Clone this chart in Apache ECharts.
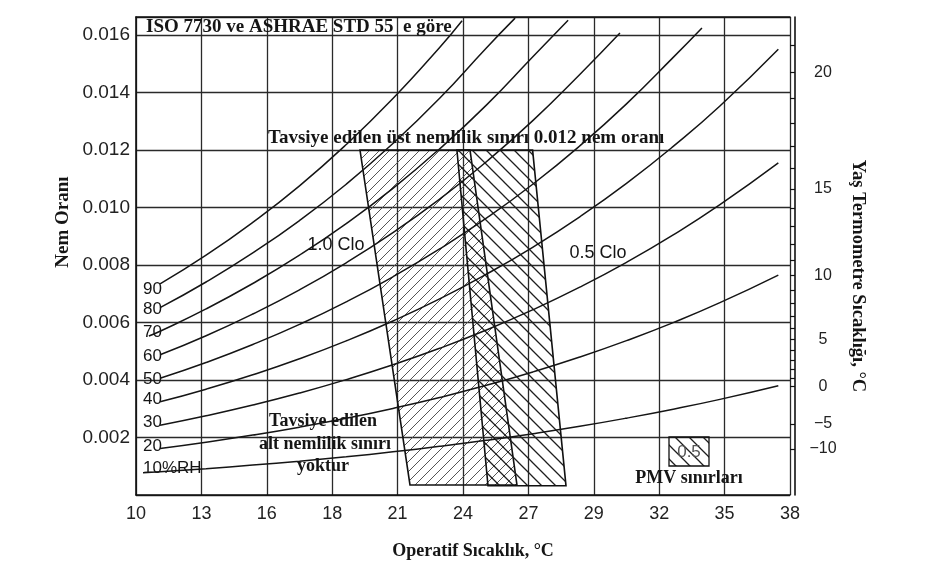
<!DOCTYPE html>
<html><head><meta charset="utf-8">
<script src="https://cdn.jsdelivr.net/npm/echarts@6/dist/echarts.min.js"></script>
<style>html,body{margin:0;padding:0;background:#fff}#c{width:929px;height:566px}</style>
</head><body><div id="c"></div>
<script>
// ---- data ----
const xTickLabels = ['10','13','16','18','21','24','27','29','32','35','38'];
const tempMin = 10, tempMax = 38;
const wMin = 0, wMax = 0.01663, wStep = 0.002;
// wet-bulb (right) axis: labels and tick positions expressed as humidity ratio
const wetBulbLabels = [20, 15, 10, 5, 0, -5, -10];
const wetBulbLabelW = [0.014697, 0.010649, 0.007631, 0.005402, 0.003775, 0.002476, 0.0016];
const wetBulbTickW = [0.015656,0.014697,0.013791,0.012936,0.012129,0.011367,0.010649,0.009971,0.009333,0.008731,0.008165,0.007631,0.007128,0.006657,0.006212,0.005795,0.005402,0.005034,0.004689,0.004364,0.00406,0.003775,0.002476,0.0016];

const rhNames = ['90','80','70','60','50','40','30','20','10%RH'];
const rh90 = [[11.03,0.007342],[13,0.008343],[15,0.009486],[17,0.010757],[19,0.012193],[21,0.013792],[23,0.015569],[23.96,0.0165]];
const rh80 = [[11.03,0.006518],[13,0.007411],[15,0.008422],[17,0.009548],[19,0.010812],[21,0.012227],[23,0.013801],[25,0.015554],[26.23,0.01659]];
const rh70 = [[10.55,0.00553],[11.03,0.005696],[13,0.006474],[15,0.007359],[17,0.008342],[19,0.009441],[21,0.010669],[23,0.012042],[25,0.013563],[27,0.015257],[28.5,0.01652]];
const rh60 = [[11.03,0.004877],[13,0.005541],[15,0.006298],[17,0.007137],[19,0.008079],[21,0.009128],[23,0.010292],[25,0.011593],[27,0.013033],[29,0.01463],[30.72,0.01607]];
const rh50 = [[11.03,0.00406],[13,0.004609],[15,0.005236],[17,0.005935],[19,0.006719],[21,0.007592],[23,0.00856],[25,0.00963],[27,0.010819],[29,0.012145],[31,0.013609],[33,0.015225],[34.23,0.01625]];
const rh40 = [[11.03,0.003242],[13,0.003682],[15,0.004182],[17,0.004739],[19,0.005362],[21,0.006055],[23,0.006822],[25,0.007681],[27,0.008627],[29,0.009678],[31,0.010841],[33,0.012127],[35,0.013532],[37.5,0.015505]];
const rh30 = [[11.03,0.002429],[13,0.002758],[15,0.003131],[17,0.003548],[19,0.004014],[21,0.00453],[23,0.005103],[25,0.005741],[27,0.006449],[29,0.007231],[31,0.008094],[33,0.009048],[35,0.0101],[37.5,0.011554]];
const rh20 = [[11.03,0.001616],[13,0.001835],[15,0.002084],[17,0.002361],[19,0.00267],[21,0.003013],[23,0.003393],[25,0.003815],[27,0.004284],[29,0.0048],[31,0.005371],[33,0.005998],[35,0.006691],[37.5,0.007652]];
const rh10 = [[10.3,0.00077],[11.03,0.000808],[13,0.000915],[15,0.00104],[17,0.001178],[19,0.001331],[21,0.001502],[23,0.001692],[25,0.001902],[27,0.002134],[29,0.00239],[31,0.002674],[33,0.002985],[35,0.003327],[37.5,0.003802]];
const rhCurves = [rh90, rh80, rh70, rh60, rh50, rh40, rh30, rh20, rh10];

// comfort zones (operative temperature, humidity ratio)
const winterZone = [[19.59,0.012],[24.30,0.012],[26.31,0.00035],[21.73,0.00035]]; // 1.0 Clo
const summerZone = [[23.74,0.012],[26.98,0.012],[28.41,0.00032],[25.07,0.00032]]; // 0.5 Clo

// ---- styling helpers ----
function hatch(p, dir, lw, color){
  const c = document.createElement('canvas');
  c.width = p; c.height = p;
  const g = c.getContext('2d');
  g.strokeStyle = color; g.lineWidth = lw;
  g.beginPath();
  if (dir > 0) {
    g.moveTo(-p, p); g.lineTo(p, -p);
    g.moveTo(0, p); g.lineTo(p, 0);
    g.moveTo(0, 2*p); g.lineTo(2*p, 0);
  } else {
    g.moveTo(-p, 0); g.lineTo(p, 2*p);
    g.moveTo(-p, -p); g.lineTo(2*p, 2*p);
    g.moveTo(0, -p); g.lineTo(2*p, p);
  }
  g.stroke();
  return {image: c, repeat: 'repeat'};
}
const winterPat = hatch(10, 1, 1, '#555');
const summerPat = hatch(14, -1, 1.3, '#1e1e1e');

function zoneRender(zone, pat){
  return function(params, api){
    if (params.dataIndex !== 0) return;
    const pts = zone.map(p => api.coord(p));
    return {type:'polygon', shape:{points: pts}, style:{fill: pat, stroke:'#111', lineWidth:1.6}};
  };
}

const sans = '"Liberation Sans", Arial, sans-serif';
const serif = '"Liberation Serif", "Times New Roman", serif';
const ink = '#151515';
const gridLine = {show:true, lineStyle:{color:'#2a2a2a', width:1.3}};

function txt(text, x, y, font, opts){
  opts = opts || {};
  return {type:'text', x:x, y:y, rotation: opts.rot || 0, z: 100,
    style:{text:text, font:font, fill: opts.fill || ink, align: opts.align || 'center', verticalAlign:'middle',
      textAlign: opts.align || 'center', textVerticalAlign:'middle'}};
}

const rhLabelY = [289, 309, 332, 356, 379, 399, 422, 446, 468];
const graphics = [];
rhNames.forEach((n, i) => graphics.push(txt(n, 143, rhLabelY[i], '17px ' + sans, {align:'left'})));
graphics.push(txt('ISO 7730 ve ASHRAE STD 55  e göre', 146, 27, 'bold 19px ' + serif, {align:'left'}));
graphics.push(txt('Tavsiye edilen üst nemlilik sınırı 0.012 nem oranı', 268, 138, 'bold 19px ' + serif, {align:'left'}));
graphics.push(txt('Tavsiye edilen', 323, 421, 'bold 18px ' + serif));
graphics.push(txt('alt nemlilik sınırı', 325, 444, 'bold 18px ' + serif));
graphics.push(txt('yoktur', 323, 466, 'bold 18px ' + serif));
graphics.push(txt('1.0 Clo', 336, 245, '18px ' + sans));
graphics.push(txt('0.5 Clo', 598, 253, '18px ' + sans));
graphics.push({type:'rect', shape:{x:669, y:437, width:40, height:29}, z: 90,
  style:{fill: summerPat, stroke:'#111', lineWidth:1.3}});
graphics.push(txt('0.5', 689, 452, '17px ' + sans, {fill:'#555'}));
graphics.push(txt('PMV sınırları', 689, 478, 'bold 18px ' + serif));
graphics.push(txt('Operatif Sıcaklık, °C', 473, 551, 'bold 18px ' + serif));
graphics.push(txt('Nem Oranı', 63, 222, 'bold 19px ' + serif, {rot: Math.PI/2}));
graphics.push(txt('Yaş Termometre Sıcaklığı, °C', 858, 276, 'bold 18.5px ' + serif, {rot: -Math.PI/2}));

const series = [
  {type:'custom', xAxisIndex:1, yAxisIndex:0, data: winterZone, encode:{x:0, y:1}, renderItem: zoneRender(winterZone, winterPat), z: 2, silent:true},
  {type:'custom', xAxisIndex:1, yAxisIndex:0, data: summerZone, encode:{x:0, y:1}, renderItem: zoneRender(summerZone, summerPat), z: 2, silent:true}
];
rhCurves.forEach((d, i) => series.push({
  type:'line', name: rhNames[i], xAxisIndex:1, yAxisIndex:0, data:d, smooth:true, symbol:'none',
  lineStyle:{color: ink, width:1.5}, z: 5, silent:true, animation:false
}));

const chart = echarts.init(document.getElementById('c'));
chart.setOption({
  animation:false,
  backgroundColor:'#fff',
  grid:{left:136, right:139, top:17, bottom:71},
  xAxis:[
    {type:'category', data:xTickLabels, boundaryGap:false, position:'bottom',
      axisLine:{show:true, lineStyle:{color:'#111', width:1.6}}, axisTick:{show:false},
      axisLabel:{color:'#222', fontFamily:sans, fontSize:18, margin:10},
      splitLine:gridLine},
    {type:'value', min:tempMin, max:tempMax, position:'top',
      axisLine:{show:true, onZero:false, lineStyle:{color:'#111', width:1.6}}, axisTick:{show:false},
      axisLabel:{show:false}, splitLine:{show:false}}
  ],
  yAxis:[
    {type:'value', min:wMin, max:wMax, interval:wStep, position:'left',
      axisLine:{show:true, onZero:false, lineStyle:{color:'#111', width:1.6}}, axisTick:{show:false},
      axisLabel:{color:'#222', fontFamily:sans, fontSize:19, margin:6,
        formatter: v => (v <= 0 || Math.abs(v/wStep - Math.round(v/wStep)) > 1e-6) ? '' : v.toFixed(3)},
      splitLine:gridLine},
    {type:'value', min:wMin, max:wMax, position:'right', offset:5,
      axisLine:{show:true, onZero:false, lineStyle:{color:'#111', width:1.6}},
      axisTick:{show:true, inside:true, length:5, customValues: wetBulbTickW, lineStyle:{color:'#111', width:1.2}},
      axisLabel:{color:'#222', fontFamily:sans, fontSize:16, margin:28, align:'center', customValues: wetBulbLabelW,
        formatter: v => { const i = wetBulbLabelW.findIndex(w => Math.abs(w - v) < 1e-7); return i < 0 ? '' : String(wetBulbLabels[i]).replace('-', '\u2212'); }},
      splitLine:{show:false}}
  ],
  graphic: graphics,
  series: series
});
</script></body></html>
